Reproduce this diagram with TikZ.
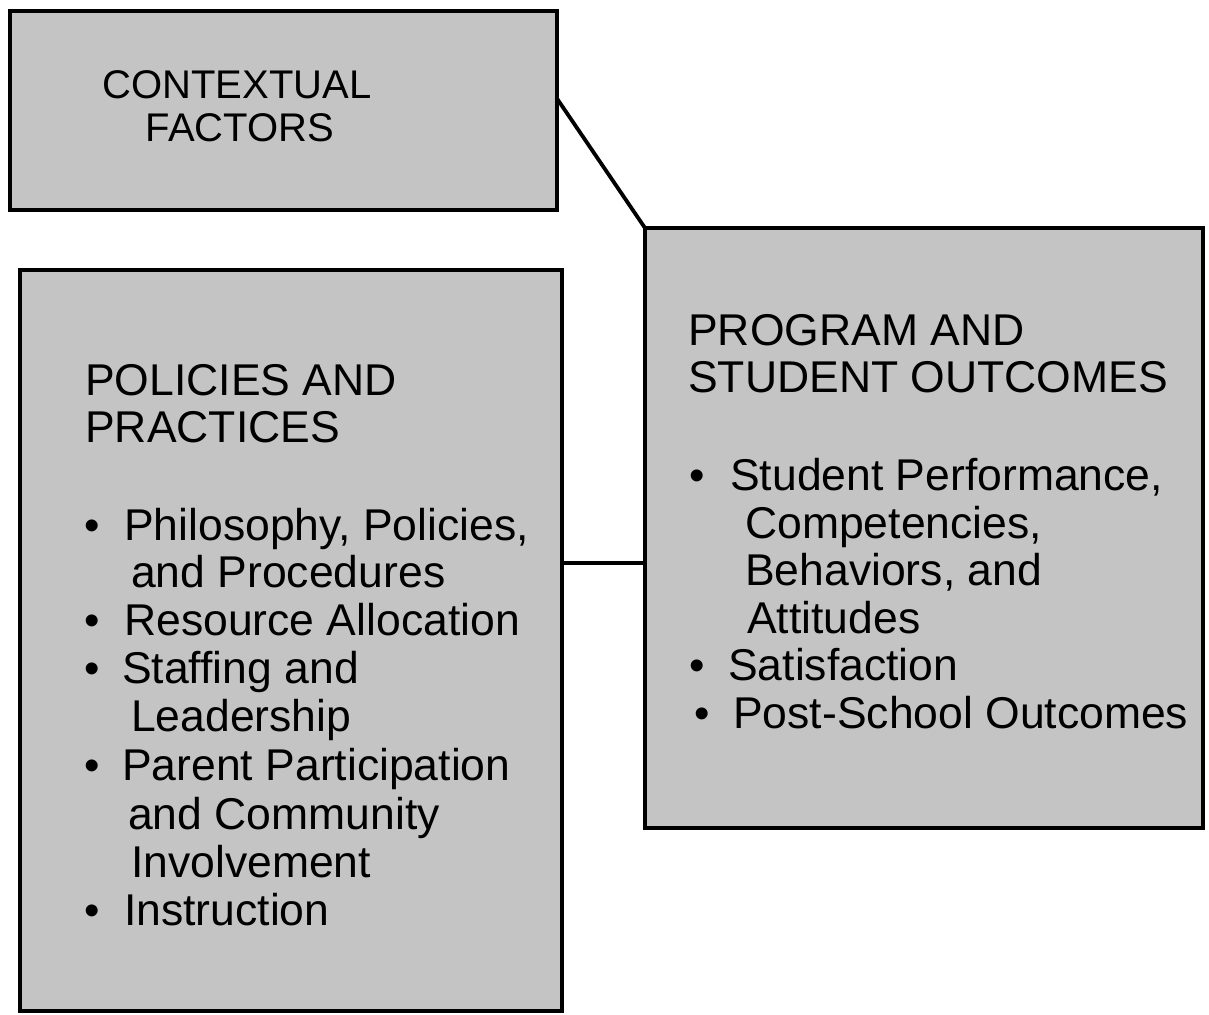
\documentclass[tikz,border=0pt]{standalone}
\usepackage{fontspec}
\setmainfont{Liberation Sans}
\usetikzlibrary{calc}
\begin{document}
\begin{tikzpicture}[x=1pt,y=-1pt,
  panel/.style={draw=black, line width=4pt, fill=black!23, inner sep=0pt, outer sep=0pt, anchor=north west},
  conn/.style={draw=black, line width=3.8pt},
  txt/.style={anchor=base west, inner sep=0pt, font=\fontsize{44.5}{47}\selectfont},
  ctr/.style={anchor=base, inner sep=0pt, font=\fontsize{40}{44}\selectfont},
  bul/.style={anchor=base, inner sep=0pt, font=\fontsize{44}{47}\selectfont}
]
\useasboundingbox[fill=white] (0,0) rectangle (1209,1014);

% boxes
\node[panel, minimum width=547pt, minimum height=199pt] (ctx) at (10,11) {};
\node[panel, minimum width=542pt, minimum height=741pt] (pol) at (20,270) {};
\node[panel, minimum width=558pt, minimum height=600pt] (prog) at (645,228) {};

% connectors
\coordinate (ctxout) at ($(ctx.north east)!0.44!(ctx.south east)$);
\coordinate (polout) at ($(pol.north east)!0.395!(pol.south east)$);
\draw[conn] (ctxout) -- (prog.north west);
\draw[conn] (polout) -- (polout -| prog.west);

% contextual factors
\node[ctr] (c1) at (237,99) {CONTEXTUAL};
\node[ctr] (c2) at (240,142) {FACTORS};

% policies and practices
\node[txt] (p1) at (85,395) {POLICIES AND};
\node[txt] (p2) at (85,442) {PRACTICES};
\node[bul] (pb1) at (92,540) {\textbullet};
\node[txt] (p3) at (124,540) {Philosophy, Policies,};
\node[txt] (p4) at (131,587) {and Procedures};
\node[bul] (pb2) at (92,635) {\textbullet};
\node[txt] (p5) at (124,635) {Resource Allocation};
\node[bul] (pb3) at (92,683) {\textbullet};
\node[txt] (p6) at (122,683) {Staffing and};
\node[txt] (p7) at (131,731) {Leadership};
\node[bul] (pb4) at (92,780) {\textbullet};
\node[txt] (p8) at (122,780) {Parent Participation};
\node[txt] (p9) at (128,829) {and Community};
\node[txt] (p10) at (131,877) {Involvement};
\node[bul] (pb5) at (92,925) {\textbullet};
\node[txt] (p11) at (124,925) {Instruction};

% program and student outcomes
\node[txt] (o1) at (688,345) {PROGRAM AND};
\node[txt] (o2) at (688,392) {STUDENT OUTCOMES};
\node[bul] (ob1) at (697,490) {\textbullet};
\node[txt] (o3) at (730,490) {Student Performance,};
\node[txt] (o4) at (745,538) {Competencies,};
\node[txt] (o5) at (745,585) {Behaviors, and};
\node[txt] (o6) at (747,633) {Attitudes};
\node[bul] (ob2) at (697,680) {\textbullet};
\node[txt] (o7) at (728,680) {Satisfaction};
\node[bul] (ob3) at (702,728) {\textbullet};
\node[txt] (o8) at (733,728) {Post-School Outcomes};
\end{tikzpicture}
\end{document}
